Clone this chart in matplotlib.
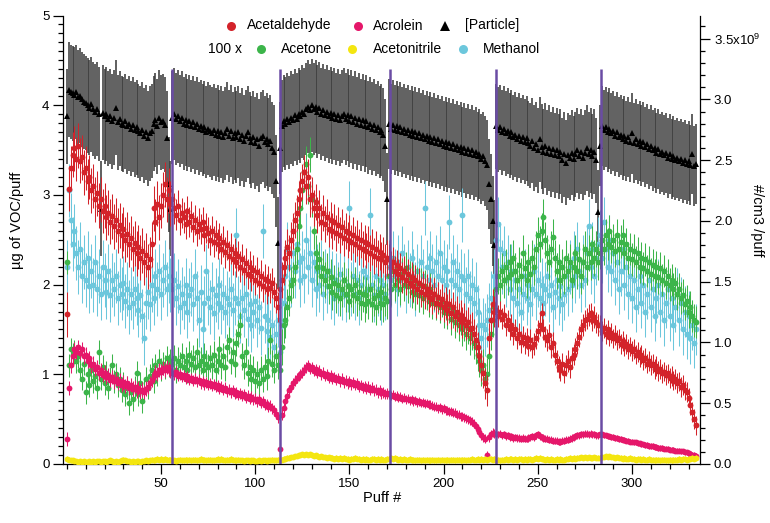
import numpy as np
import matplotlib
matplotlib.use("Agg")
import matplotlib.pyplot as plt
from matplotlib.ticker import MultipleLocator, FixedLocator, FixedFormatter

plt.rcParams['font.family'] = ['Liberation Sans', 'DejaVu Sans']
plt.rcParams['mathtext.fontset'] = 'custom'
plt.rcParams['mathtext.rm'] = 'Liberation Sans'

# ---------------- data ----------------
seg_lengths = [56, 57, 58, 57, 55, 52]
cigarette_changes = [55.7, 113.4, 171.6, 228.0, 283.3]

acetaldehyde = [
    1.67,3.07,3.30,3.45,3.52,3.40,3.55,3.38,3.42,3.25,
    3.30,3.15,3.20,3.05,3.10,2.95,3.02,2.88,2.95,2.82,
    2.88,2.75,2.80,2.70,2.76,2.65,2.72,2.60,2.66,2.55,
    2.62,2.50,2.56,2.45,2.52,2.40,2.46,2.35,2.42,2.30,
    2.38,2.25,2.33,2.20,2.28,2.45,2.85,2.70,2.90,2.75,
    2.88,3.00,3.12,2.95,3.05,2.90,
    2.95,2.85,2.78,2.88,2.72,2.80,2.75,2.68,2.82,2.70,
    2.76,2.64,2.72,2.60,2.68,2.62,2.70,2.55,2.63,2.58,
    2.50,2.60,2.48,2.55,2.45,2.52,2.40,2.48,2.36,2.44,
    2.32,2.40,2.28,2.35,2.25,2.32,2.20,2.28,2.16,2.24,
    2.12,2.20,2.10,2.16,2.05,2.14,2.02,2.10,1.98,2.06,
    1.95,2.04,1.96,2.02,1.92,1.85,1.75,
    1.95,2.05,2.20,2.30,2.42,2.35,2.50,2.60,2.72,2.80,
    2.95,3.05,3.15,3.25,3.10,3.20,2.95,3.00,2.85,2.92,
    2.78,2.85,2.70,2.80,2.68,2.75,2.62,2.72,2.60,2.70,
    2.58,2.66,2.55,2.64,2.52,2.60,2.50,2.58,2.47,2.55,
    2.45,2.52,2.42,2.50,2.40,2.47,2.38,2.45,2.35,2.42,
    2.32,2.40,2.30,2.36,2.28,2.33,2.25,2.30,
    2.28,2.20,2.25,2.15,2.22,2.12,2.18,2.08,2.15,2.05,
    2.12,2.02,2.08,1.98,2.05,1.95,2.02,1.92,1.98,1.90,
    1.95,1.86,1.92,1.84,1.90,1.80,1.86,1.78,1.84,1.75,
    1.80,1.72,1.78,1.68,1.75,1.65,1.70,1.62,1.66,1.58,
    1.62,1.55,1.58,1.50,1.52,1.45,1.38,1.30,1.20,1.10,
    1.02,0.90,0.82,1.40,1.60,1.78,1.70,
    1.72,1.65,1.70,1.62,1.66,1.55,1.60,1.50,1.55,1.45,
    1.50,1.40,1.45,1.36,1.42,1.35,1.40,1.32,1.38,1.30,
    1.34,1.40,1.48,1.55,1.68,1.50,1.42,1.38,1.44,1.30,
    1.35,1.22,1.15,1.08,1.05,1.12,1.02,1.10,1.15,1.08,
    1.18,1.22,1.28,1.35,1.42,1.50,1.55,1.60,1.62,1.66,
    1.68,1.60,1.64,1.58,1.55,
    1.55,1.48,1.52,1.45,1.50,1.42,1.46,1.40,1.44,1.38,
    1.40,1.34,1.37,1.31,1.34,1.28,1.31,1.26,1.28,1.22,
    1.25,1.19,1.22,1.16,1.18,1.12,1.15,1.10,1.12,1.06,
    1.09,1.04,1.06,1.01,1.03,0.99,1.01,0.96,0.98,0.93,
    0.95,0.90,0.92,0.86,0.88,0.82,0.80,0.74,0.66,0.58,
    0.50,0.43,
]
acetaldehyde_err = [0.25, 0.17, 0.20, 0.17, 0.12, 0.11]

acrolein = [
    0.28,0.85,1.10,1.20,1.28,1.25,1.30,1.24,1.28,1.20,
    1.22,1.15,1.18,1.10,1.12,1.06,1.08,1.02,1.05,0.99,
    1.02,0.97,0.99,0.94,0.97,0.92,0.95,0.90,0.93,0.88,
    0.91,0.87,0.90,0.85,0.88,0.84,0.86,0.82,0.85,0.81,
    0.83,0.80,0.84,0.86,0.90,0.94,0.98,1.02,1.00,1.05,
    1.03,1.07,1.05,1.08,1.06,1.04,
    1.02,1.00,1.03,0.98,1.00,0.97,0.99,0.95,0.98,0.94,
    0.96,0.93,0.95,0.92,0.94,0.90,0.92,0.89,0.91,0.88,
    0.90,0.87,0.89,0.86,0.88,0.84,0.86,0.83,0.85,0.81,
    0.83,0.80,0.82,0.78,0.80,0.77,0.79,0.76,0.78,0.74,
    0.76,0.73,0.75,0.72,0.73,0.70,0.72,0.68,0.70,0.66,
    0.67,0.64,0.65,0.62,0.60,0.56,0.52,
    0.17,0.55,0.62,0.70,0.76,0.82,0.86,0.90,0.93,0.96,
    0.98,1.00,1.02,1.05,1.08,1.10,1.06,1.08,1.04,1.06,
    1.02,1.04,1.00,1.02,0.98,1.00,0.96,0.99,0.95,0.97,
    0.94,0.96,0.92,0.95,0.91,0.93,0.90,0.92,0.89,0.91,
    0.88,0.90,0.86,0.88,0.85,0.87,0.84,0.86,0.83,0.85,
    0.82,0.83,0.80,0.82,0.79,0.80,0.78,0.79,
    0.78,0.76,0.77,0.75,0.76,0.74,0.75,0.73,0.74,0.72,
    0.73,0.71,0.72,0.70,0.71,0.69,0.70,0.68,0.69,0.67,
    0.68,0.66,0.66,0.65,0.64,0.64,0.62,0.63,0.61,0.62,
    0.60,0.60,0.58,0.59,0.57,0.57,0.55,0.55,0.53,0.53,
    0.52,0.51,0.50,0.49,0.47,0.45,0.42,0.39,0.36,0.32,
    0.30,0.28,0.10,0.30,0.33,0.35,0.34,
    0.34,0.33,0.34,0.32,0.33,0.31,0.32,0.30,0.31,0.29,
    0.30,0.29,0.29,0.28,0.29,0.28,0.28,0.29,0.30,0.31,
    0.30,0.32,0.33,0.31,0.30,0.29,0.28,0.28,0.27,0.27,
    0.26,0.26,0.26,0.25,0.25,0.26,0.26,0.27,0.27,0.28,
    0.29,0.30,0.31,0.32,0.32,0.33,0.33,0.34,0.34,0.33,
    0.34,0.33,0.33,0.32,0.32,
    0.33,0.33,0.32,0.32,0.31,0.31,0.30,0.30,0.29,0.29,
    0.28,0.28,0.27,0.27,0.26,0.26,0.25,0.25,0.24,0.24,
    0.23,0.23,0.22,0.22,0.21,0.21,0.20,0.20,0.20,0.19,
    0.19,0.18,0.18,0.18,0.17,0.17,0.17,0.16,0.16,0.16,
    0.15,0.15,0.15,0.14,0.14,0.13,0.13,0.12,0.11,0.10,
    0.10,0.09,
]
acrolein_err = [0.08, 0.06, 0.06, 0.05, 0.04, 0.03]

acetone_x100 = [
    2.25,1.10,1.28,1.22,1.25,1.15,1.20,1.05,0.95,1.12,
    0.80,1.00,0.88,1.05,0.92,0.98,0.85,1.25,0.95,1.08,
    0.90,1.02,0.85,0.95,1.10,0.92,1.00,0.88,0.95,0.82,
    0.90,0.78,0.85,0.68,0.80,0.72,0.85,1.02,0.78,0.90,
    0.70,0.82,0.95,0.85,0.98,1.05,0.92,1.10,1.00,1.15,
    1.05,1.12,1.08,1.18,1.10,1.15,
    1.12,1.18,1.05,1.15,1.10,1.20,1.08,1.15,1.05,1.22,
    1.12,1.18,1.08,1.25,1.10,1.15,1.05,1.20,1.12,1.08,
    1.18,1.10,1.22,1.05,1.15,1.28,1.10,1.20,1.08,1.30,
    1.38,1.15,1.25,1.12,1.35,1.45,1.55,1.20,1.10,1.25,
    1.02,1.08,0.95,1.05,0.92,1.00,0.90,1.05,0.95,1.08,
    0.98,1.15,1.38,1.12,1.05,1.20,1.10,
    1.05,1.30,1.55,1.60,1.75,1.85,2.00,2.05,2.20,2.40,
    2.65,2.85,3.05,3.25,3.35,3.10,3.45,2.95,2.60,2.35,
    2.20,2.28,2.10,2.18,2.05,2.15,1.98,2.08,1.92,2.02,
    1.88,2.00,1.85,1.95,2.05,1.90,1.98,1.82,1.95,1.88,
    2.00,1.85,1.92,1.80,1.90,1.78,1.88,1.82,1.95,1.78,
    1.85,1.75,1.88,1.80,1.92,1.78,1.85,1.82,
    2.10,1.95,2.15,2.00,2.20,2.05,1.95,2.12,2.00,2.18,
    1.98,2.08,1.92,2.05,1.90,2.02,1.88,2.00,1.85,1.98,
    1.90,1.82,1.95,1.80,1.90,1.78,1.85,1.75,1.82,1.70,
    1.78,1.68,1.75,1.62,1.70,1.58,1.65,1.55,1.62,1.50,
    1.55,1.45,1.52,1.40,1.45,1.35,1.30,1.22,1.15,1.05,
    1.10,0.95,1.00,1.20,1.45,1.60,1.75,
    1.95,2.10,2.00,2.15,2.05,2.20,2.08,2.25,2.12,2.30,
    2.15,2.05,2.22,2.10,2.35,2.18,2.05,2.25,2.12,2.30,
    2.20,2.40,2.55,2.45,2.60,2.75,2.50,2.35,2.25,2.40,
    2.53,2.30,2.15,2.25,2.05,2.20,2.10,2.30,2.15,2.25,
    2.05,2.20,2.35,2.15,2.28,2.10,2.25,2.40,2.20,2.35,
    2.25,2.45,2.30,2.40,2.25,
    2.35,2.50,2.40,2.55,2.45,2.60,2.42,2.50,2.38,2.55,
    2.40,2.48,2.55,2.35,2.45,2.30,2.40,2.28,2.38,2.25,
    2.35,2.20,2.30,2.18,2.28,2.15,2.25,2.12,2.22,2.10,
    2.20,2.08,2.18,2.05,2.15,2.02,2.10,2.00,2.05,1.95,
    2.02,1.90,1.95,1.85,1.88,1.78,1.82,1.70,1.75,1.65,
    1.60,1.58,
]
acetone_err = [0.13, 0.15, 0.20, 0.18, 0.20, 0.18]

acetonitrile_x100 = [
    0.06,0.05,0.04,0.04,0.03,0.03,0.02,0.03,0.02,0.03,
    0.02,0.02,0.03,0.02,0.03,0.02,0.03,0.03,0.02,0.03,
    0.03,0.02,0.03,0.04,0.03,0.02,0.03,0.02,0.03,0.04,
    0.05,0.04,0.03,0.03,0.02,0.03,0.02,0.03,0.03,0.02,
    0.03,0.03,0.04,0.03,0.04,0.05,0.04,0.05,0.06,0.05,
    0.06,0.05,0.06,0.05,0.05,0.05,
    0.04,0.04,0.03,0.04,0.05,0.04,0.04,0.05,0.04,0.05,
    0.04,0.05,0.05,0.04,0.05,0.06,0.05,0.05,0.04,0.05,
    0.05,0.04,0.04,0.05,0.06,0.05,0.06,0.05,0.04,0.05,
    0.05,0.06,0.05,0.04,0.04,0.05,0.04,0.04,0.03,0.04,
    0.04,0.03,0.04,0.04,0.03,0.03,0.04,0.03,0.04,0.04,
    0.03,0.04,0.04,0.05,0.04,0.04,0.05,
    0.05,0.05,0.06,0.06,0.07,0.07,0.08,0.08,0.09,0.09,
    0.10,0.10,0.11,0.10,0.11,0.10,0.11,0.10,0.09,0.10,
    0.09,0.08,0.09,0.08,0.08,0.07,0.08,0.07,0.07,0.06,
    0.07,0.06,0.07,0.06,0.07,0.06,0.06,0.05,0.06,0.06,
    0.07,0.06,0.06,0.05,0.06,0.05,0.06,0.05,0.05,0.06,
    0.06,0.05,0.06,0.05,0.06,0.05,0.05,0.06,
    0.06,0.07,0.06,0.07,0.06,0.05,0.06,0.05,0.06,0.05,
    0.05,0.06,0.05,0.05,0.04,0.05,0.05,0.04,0.05,0.04,
    0.05,0.04,0.04,0.05,0.04,0.04,0.05,0.04,0.05,0.04,
    0.04,0.05,0.04,0.05,0.05,0.04,0.05,0.05,0.04,0.05,
    0.05,0.04,0.05,0.05,0.06,0.05,0.05,0.06,0.05,0.06,
    0.05,0.06,0.05,0.06,0.06,0.05,0.06,
    0.04,0.05,0.04,0.05,0.05,0.06,0.05,0.06,0.06,0.05,
    0.06,0.05,0.06,0.06,0.05,0.06,0.05,0.06,0.06,0.05,
    0.06,0.07,0.06,0.07,0.06,0.06,0.05,0.06,0.05,0.06,
    0.05,0.05,0.06,0.05,0.06,0.05,0.05,0.06,0.06,0.07,
    0.06,0.07,0.06,0.07,0.07,0.08,0.07,0.08,0.07,0.08,
    0.07,0.07,0.08,0.07,0.07,
    0.07,0.08,0.08,0.09,0.08,0.09,0.08,0.08,0.07,0.08,
    0.07,0.07,0.06,0.07,0.06,0.06,0.07,0.06,0.06,0.05,
    0.06,0.06,0.05,0.06,0.05,0.05,0.06,0.05,0.05,0.04,
    0.05,0.05,0.04,0.05,0.05,0.04,0.04,0.05,0.04,0.05,
    0.05,0.05,0.06,0.05,0.06,0.06,0.05,0.06,0.06,0.07,
    0.06,0.07,
]
acetonitrile_err = [0.025, 0.025, 0.025, 0.025, 0.025, 0.025]

methanol_x100 = [
    2.20,3.05,2.72,2.45,2.60,2.35,2.20,2.40,2.10,2.25,
    2.05,2.30,1.98,2.15,2.00,2.25,1.95,2.10,1.90,2.20,
    2.05,1.92,2.15,1.88,2.05,1.95,2.10,1.85,2.00,1.90,
    2.02,1.82,1.95,1.75,1.90,1.80,1.95,1.85,1.72,1.88,
    1.65,1.40,1.80,1.92,1.78,2.00,1.85,2.10,1.95,2.15,
    1.90,2.05,2.20,1.95,2.10,2.00,
    1.95,2.05,1.85,1.98,1.75,1.90,1.80,2.00,1.70,1.88,
    1.95,1.78,2.10,1.85,1.60,1.92,1.50,1.80,2.15,1.85,
    1.75,1.95,1.68,1.88,1.80,2.00,1.75,1.90,1.70,1.85,
    1.78,1.95,1.72,1.85,2.55,1.80,1.65,1.85,1.72,1.90,
    1.62,1.78,1.55,1.70,1.82,1.60,1.75,1.52,2.60,1.65,
    1.48,1.60,1.42,1.55,1.30,1.45,1.60,
    1.25,1.55,1.80,2.10,2.40,2.20,2.05,2.35,2.15,2.45,
    2.25,2.05,2.30,2.10,2.50,2.20,2.35,2.05,2.25,1.95,
    2.15,2.00,2.20,1.90,2.10,1.98,2.15,1.92,2.08,1.85,
    2.05,1.95,2.12,1.90,2.05,1.88,2.00,2.85,1.95,2.10,
    1.90,2.05,1.85,2.00,2.15,1.92,2.08,1.95,2.78,2.00,
    1.88,2.10,1.95,2.05,1.85,2.00,1.90,2.10,
    2.20,2.05,2.30,2.10,1.95,2.25,2.05,2.35,2.15,1.98,
    2.20,2.05,2.30,2.10,1.95,2.15,2.00,2.25,2.10,2.85,
    2.20,2.05,2.30,2.15,2.00,2.25,2.10,2.35,2.05,2.20,
    2.00,2.15,2.70,2.05,2.25,2.00,2.15,1.95,2.10,2.78,
    2.05,1.90,2.10,1.85,2.00,1.80,1.95,1.70,1.55,1.40,
    1.55,1.50,1.60,1.72,1.85,1.80,2.10,
    2.50,2.68,2.40,2.20,2.35,2.05,2.25,1.95,2.15,1.85,
    2.05,1.80,1.95,1.70,1.90,2.10,1.85,2.00,1.78,1.95,
    2.15,1.90,2.05,1.85,2.00,1.80,1.95,2.10,1.88,2.00,
    1.75,1.92,2.05,1.85,1.98,1.78,1.90,2.10,1.95,2.20,
    2.00,2.30,2.10,2.40,2.15,2.00,2.25,2.05,2.35,2.65,
    2.20,2.40,2.10,2.30,2.45,
    2.55,2.30,2.70,2.40,2.20,2.50,2.15,2.35,2.05,2.25,
    1.95,2.15,2.40,2.00,2.20,1.90,2.10,1.85,2.05,1.75,
    1.95,2.10,1.80,2.00,1.70,1.90,2.05,1.75,1.95,1.65,
    1.85,2.00,1.70,1.90,1.60,1.80,1.95,1.65,1.85,1.55,
    1.75,1.90,1.60,1.80,1.50,1.70,1.45,1.65,1.40,1.55,
    1.35,1.50,
]
methanol_err = [0.30, 0.30, 0.30, 0.30, 0.30, 0.28]

particle_e9 = [
    2.86,3.08,3.06,3.05,3.04,3.06,3.02,3.03,3.00,2.98,
    2.97,2.95,2.93,2.96,2.92,2.90,2.92,2.88,2.10,2.89,
    2.86,2.88,2.84,2.86,2.82,2.85,2.93,2.81,2.84,2.80,
    2.79,2.82,2.78,2.80,2.76,2.79,2.75,2.77,2.74,2.72,
    2.75,2.70,2.73,2.68,2.72,2.74,2.80,2.83,2.78,2.85,
    2.81,2.82,2.79,2.68,2.30,2.10,
    2.85,2.88,2.84,2.86,2.82,2.85,2.80,2.83,2.79,2.82,
    2.78,2.81,2.77,2.80,2.76,2.78,2.75,2.77,2.73,2.76,
    2.74,2.72,2.75,2.71,2.74,2.70,2.73,2.69,2.72,2.76,
    2.70,2.74,2.68,2.72,2.69,2.73,2.67,2.71,2.66,2.70,
    2.73,2.68,2.65,2.69,2.64,2.67,2.62,2.68,2.70,2.65,
    2.67,2.63,2.66,2.60,2.57,2.33,1.82,
    2.60,2.78,2.82,2.80,2.84,2.81,2.85,2.83,2.87,2.84,
    2.88,2.86,2.90,2.88,2.92,2.94,2.91,2.95,2.92,2.94,
    2.90,2.93,2.88,2.91,2.87,2.90,2.86,2.89,2.85,2.88,
    2.84,2.87,2.83,2.86,2.88,2.84,2.87,2.82,2.86,2.81,
    2.85,2.80,2.84,2.79,2.83,2.78,2.82,2.77,2.80,2.76,
    2.79,2.75,2.77,2.73,2.75,2.71,2.62,2.18,
    2.80,2.76,2.79,2.75,2.78,2.74,2.77,2.73,2.76,2.72,
    2.75,2.71,2.74,2.70,2.73,2.69,2.72,2.68,2.71,2.67,
    2.70,2.66,2.69,2.65,2.68,2.64,2.67,2.63,2.66,2.62,
    2.65,2.61,2.64,2.60,2.63,2.59,2.62,2.58,2.61,2.57,
    2.60,2.56,2.59,2.55,2.58,2.54,2.57,2.53,2.55,2.51,
    2.53,2.49,2.46,2.30,2.18,2.00,1.80,
    2.78,2.75,2.77,2.73,2.76,2.72,2.74,2.70,2.73,2.69,
    2.71,2.67,2.70,2.66,2.69,2.65,2.68,2.64,2.62,2.66,
    2.60,2.63,2.58,2.67,2.61,2.57,2.62,2.56,2.60,2.55,
    2.59,2.54,2.58,2.53,2.57,2.50,2.55,2.48,2.54,2.52,
    2.56,2.51,2.55,2.58,2.53,2.57,2.52,2.56,2.60,2.55,
    2.58,2.53,2.57,2.50,2.07,
    2.62,2.78,2.75,2.77,2.73,2.76,2.72,2.74,2.70,2.73,
    2.69,2.71,2.67,2.70,2.66,2.69,2.65,2.72,2.64,2.67,
    2.63,2.66,2.62,2.65,2.61,2.63,2.59,2.62,2.58,2.60,
    2.56,2.59,2.55,2.57,2.54,2.56,2.52,2.55,2.51,2.53,
    2.50,2.52,2.49,2.51,2.48,2.50,2.47,2.49,2.46,2.55,
    2.45,2.47,
]
particle_err = [0.39, 0.38, 0.38, 0.37, 0.35, 0.33]

legend_labels = ["Acetaldehyde", "Acrolein", "[Particle]",
                 "Acetone", "Acetonitrile", "Methanol"]

# ---------------- colours ----------------
C_RED = '#d3232a'
C_PINK = '#e5176a'
C_GREEN = '#3cb54a'
C_YELLOW = '#f4e610'
C_CYAN = '#6cc7dc'
C_PURPLE = '#6a4ca4'


def seg_err(values, seg_err_list):
    e = np.repeat(seg_err_list, seg_lengths)
    return np.resize(e, len(values))


def styled_errorbar(axis, vals, errs, col, marker, ms, capsize, barcol, barlw, z):
    x = np.arange(len(vals))
    cont = axis.errorbar(x, vals, yerr=seg_err(vals, errs), fmt=marker, ms=ms,
                         mew=0, color=col, ecolor=col, elinewidth=barlw,
                         capsize=capsize, capthick=1.0, zorder=z)
    _, caps, bars = cont.lines
    for b in bars:
        b.set_color(barcol)
    for c in caps:
        c.set_color(col)
    return cont


W, H = 770, 523
fig = plt.figure(figsize=(W / 100, H / 100), dpi=100)
ax = fig.add_axes([63.3 / W, (H - 464) / H, (700 - 63.3) / W, (464 - 15.5) / H])
ax2 = ax.twinx()
ax.set_zorder(2)
ax2.set_zorder(1)
ax.patch.set_visible(False)

# particle on the right axis (drawn underneath)
styled_errorbar(ax2, particle_e9, particle_err, 'black', '^', 4.2, 3.6, '#3c3c3c', 1.15, 2)

series = [
    (methanol_x100, methanol_err, C_CYAN, 2),
    (acetone_x100, acetone_err, C_GREEN, 3),
    (acetaldehyde, acetaldehyde_err, C_RED, 4),
    (acrolein, acrolein_err, C_PINK, 5),
    (acetonitrile_x100, acetonitrile_err, C_YELLOW, 6),
]
for vals, errs, col, z in series:
    styled_errorbar(ax, vals, errs, col, 'o', 4.2, 2.9, col, 0.75, z)

ax.vlines(cigarette_changes, 0, 4.4, colors=C_PURPLE, linewidth=1.8, zorder=10)

# ---------------- axes ----------------
ax.set_xlim(-1.9, 336.1)
ax.set_ylim(0, 5)
ax2.set_ylim(0, 3.69)

for a in (ax, ax2):
    a.spines['top'].set_visible(False)
    for s in a.spines.values():
        s.set_linewidth(0.9)
ax2.spines['left'].set_visible(False)
ax2.spines['bottom'].set_visible(False)
ax.spines['right'].set_visible(False)

ax.xaxis.set_major_locator(FixedLocator([50, 100, 150, 200, 250, 300]))
ax.xaxis.set_minor_locator(MultipleLocator(10))
ax.yaxis.set_major_locator(MultipleLocator(1))
ax.yaxis.set_minor_locator(MultipleLocator(0.1))

rticks = [0, 0.5, 1.0, 1.5, 2.0, 2.5, 3.0, 3.5]
rlabels = ['0.0', '0.5', '1.0', '1.5', '2.0', '2.5', '3.0', r'3.5x10$^{9}$']
ax2.yaxis.set_major_locator(FixedLocator(rticks))
ax2.yaxis.set_major_formatter(FixedFormatter(rlabels))
ax2.yaxis.set_minor_locator(MultipleLocator(0.1))

ax.tick_params(axis='both', which='major', direction='out', length=7, width=0.9,
               labelsize=9.5, pad=3)
ax.tick_params(axis='both', which='minor', direction='out', length=3.6, width=0.9)
ax2.tick_params(axis='y', which='major', direction='out', length=7, width=0.9,
                labelsize=9.5, pad=3)
ax2.tick_params(axis='y', which='minor', direction='out', length=3.6, width=0.9)

ax.set_xlabel('Puff #', fontsize=10.5, labelpad=1)
ax.set_ylabel('µg of VOC/puff', fontsize=10.5)
ax.yaxis.set_label_coords(-0.062, 0.544)
ax2.set_ylabel('#/cm3 /puff', fontsize=10.5, rotation=270, va='center')
ax2.yaxis.set_label_coords(1.0895, 0.544)

# ---------------- legend (manual, two rows) ----------------
def fx(px):
    return px / W


def fy(py):
    return 1 - py / H


row1, row2 = 25.5, 49
legend_items = [
    (231, 247, row1, C_RED, 'o', legend_labels[0]),
    (358, 373, row1, C_PINK, 'o', legend_labels[1]),
    (445, 465, row1, 'black', '^', legend_labels[2]),
    (261, 281, row2, C_GREEN, 'o', legend_labels[3]),
    (352, 373, row2, C_YELLOW, 'o', legend_labels[4]),
    (463, 483, row2, C_CYAN, 'o', legend_labels[5]),
]
for mx, tx, ry, col, mk, lab in legend_items:
    fig.lines.append(plt.Line2D([fx(mx)], [fy(ry)], marker=mk, color=col, ms=6.5,
                                mew=0, linestyle='none', transform=fig.transFigure))
    fig.text(fx(tx), fy(ry), lab, fontsize=10, ha='left', va='center')
fig.text(fx(208), fy(row2), '100 x', fontsize=10, ha='left', va='center')

fig.savefig('out.png', dpi=100)
